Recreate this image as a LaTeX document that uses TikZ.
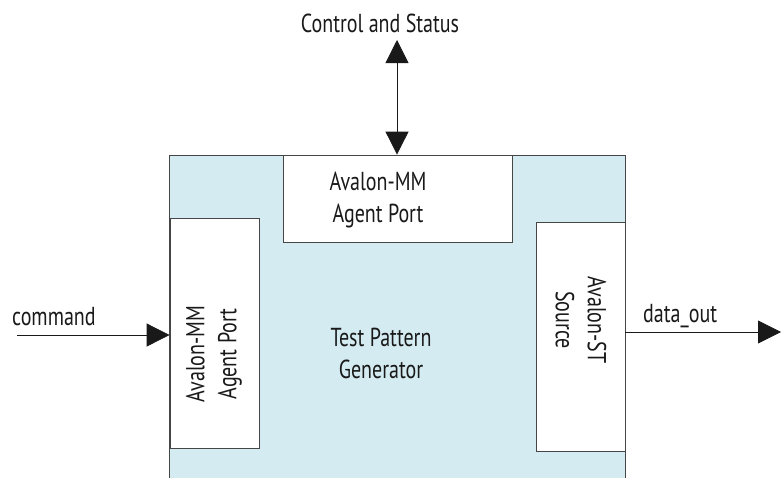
\documentclass[tikz,border=0pt]{standalone}
\usepackage{fontspec}
\setmainfont{PT Sans}[FakeStretch=0.77]
\usepackage{tikz}
\usetikzlibrary{arrows.meta,positioning}
\definecolor{tpgblue}{RGB}{212,235,242}
\definecolor{linegray}{RGB}{70,70,70}

\begin{document}
\begin{tikzpicture}[x=1pt, y=-1pt, >={Triangle[length=23pt,width=23pt]},
    core/.style={rectangle, draw=linegray, fill=tpgblue, line width=0.8pt, minimum width=456pt, minimum height=345pt, inner sep=0pt},
    port/.style={rectangle, draw=linegray, fill=white, line width=0.8pt, inner sep=0pt},
    txt/.style={font=\fontsize{26}{32}\selectfont, align=center, inner sep=0pt, text=black!90},
    sig/.style={line width=0.8pt, draw=black!90}]
    \useasboundingbox (0,0) rectangle (781,477);

    \node [core] (tpg) at (397,327.5) {};
    \node [port, minimum width=229pt, minimum height=87pt] (mmtop) at (397.5,198.5) {};
    \node [port, minimum width=89pt, minimum height=230pt] (mmleft) at (214.5,333) {};
    \node [port, minimum width=89pt, minimum height=229pt] (stsrc) at (580.5,336.5) {};

    \node [txt] (tpglbl) at (381,353) {Test Pattern\\Generator};
    \node [txt] (mmtoplbl) at (378,200.5) {Avalon-MM\\Agent Port};
    \node [txt, rotate=90] (mmleftlbl) at (214,354) {Avalon-MM\\Agent Port};
    \node [txt, rotate=-90] (stsrclbl) at (581,320) {Avalon-ST\\Source};

    \coordinate (ctl) at (397,40);
    \coordinate (cmdin) at (17,335);
    \coordinate (dout) at (781,332);

    \node [txt, anchor=base] (ctllbl) at (380,32) {Control and Status};
    \node [txt, anchor=base west] (cmdlbl) at (12,325) {command};
    \node [txt, anchor=base west] (doutlbl) at (643,322) {data\_out};

    \draw [sig, <->] (ctl) -- (ctl |- mmtop.north);
    \draw [sig, ->] (cmdin) -- (cmdin -| mmleft.west);
    \draw [sig, ->] (stsrc.east |- dout) -- (dout);
\end{tikzpicture}
\end{document}
